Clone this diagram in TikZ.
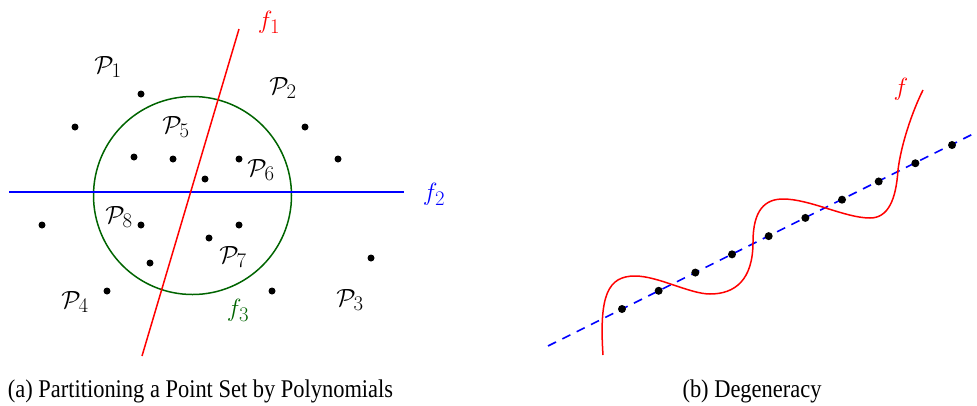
\documentclass[tikz,border=0pt]{standalone}
\usepackage{fontspec}
\setmainfont{Liberation Serif}
\definecolor{myred}{RGB}{255,0,0}
\definecolor{myblue}{RGB}{0,0,255}
\definecolor{mygreen}{RGB}{0,100,0}
\begin{document}
\begin{tikzpicture}[x=1pt,y=-1pt,
  dot/.style={circle,fill=black,inner sep=0pt,minimum size=7pt},
  bdot/.style={circle,fill=black,inner sep=0pt,minimum size=8pt},
  lab/.style={font=\fontsize{27.5}{32}\selectfont,inner sep=0pt},
  captext/.style={font=\fontsize{25.5}{30}\selectfont,inner sep=0pt,anchor=base},
  ln/.style={line width=1.5pt}]
\useasboundingbox (0,0) rectangle (977,405);
% ---- left panel ----
\node[circle,draw=mygreen,ln,minimum size=198pt,inner sep=0pt] (circ) at (192.5,195.5) {};
\coordinate (f2a) at (9,192);
\coordinate (f2b) at (404,192);
\draw[ln,myblue] (f2a) -- (f2b);
\coordinate (f1a) at (142,356);
\coordinate (f1b) at (239,29);
\draw[ln,myred] (f1a) -- (f1b);
\node[lab,myred] (lf1) at (269,22) {$f_1$};
\node[lab,myblue] (lf2) at (434,194) {$f_2$};
\node[lab,mygreen] (lf3) at (238,310) {$f_3$};
\foreach \x/\y [count=\i] in {141/94,75/127,305/127,134/157,173/159,239/159,338/159,205/179,42/225,141/225,239/225,209/238,150/263,371/258,107/291,272/291}
  \node[dot] (p\i) at (\x,\y) {};
\node[lab] (P1) at (108,67) {$\mathcal{P}_1$};
\node[lab] (P2) at (283,88) {$\mathcal{P}_2$};
\node[lab] (P3) at (350,300) {$\mathcal{P}_3$};
\node[lab] (P4) at (75,302) {$\mathcal{P}_4$};
\node[lab] (P5) at (176,127) {$\mathcal{P}_5$};
\node[lab] (P6) at (261,170) {$\mathcal{P}_6$};
\node[lab] (P7) at (233,257) {$\mathcal{P}_7$};
\node[lab] (P8) at (119,217) {$\mathcal{P}_8$};
% ---- right panel ----
\coordinate (da) at (548,346);
\coordinate (db) at (977,132);
\draw[myblue,line width=1.6pt,dash pattern=on 9pt off 7pt] (da) -- (db);
\foreach \i in {0,...,9}
  \node[bdot] (q\i) at ({622+36.67*\i},{309-18.22*\i}) {};
\coordinate (cA) at (603,355);
\coordinate (cB) at (635,276);
\coordinate (cC) at (710,294);
\coordinate (cG) at (753,242);
\coordinate (cD) at (783,199);
\coordinate (cE) at (870,218);
\coordinate (cH) at (898,170);
\coordinate (cF) at (923,90);
\draw[ln,myred] (cA) .. controls (599,295) and (608,276) .. (cB)
  .. controls (658,276) and (690,294) .. (cC)
  .. controls (735,294) and (753,280) .. (cG)
  .. controls (753,210) and (765,199) .. (cD)
  .. controls (810,199) and (845,218) .. (cE)
  .. controls (888,218) and (896,200) .. (cH)
  .. controls (901,145) and (912,112) .. (cF);
\node[lab,myred] (lf) at (901,89) {$f$};
% ---- captions ----
\node[captext] (capa) at (200.5,397) {\scalebox{0.88}[1]{(a) Partitioning a Point Set by Polynomials}};
\node[captext] (capb) at (752,397) {\scalebox{0.88}[1]{(b) Degeneracy}};
\end{tikzpicture}
\end{document}
